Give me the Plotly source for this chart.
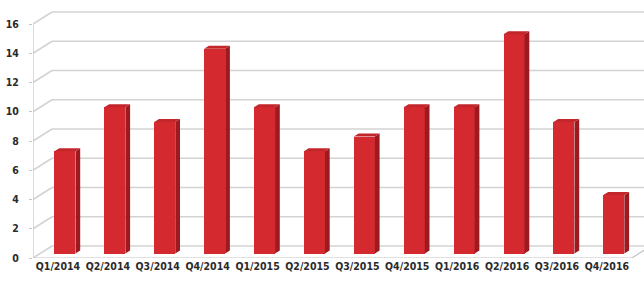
import plotly.graph_objects as go

categories = ["Q1/2014", "Q2/2014", "Q3/2014", "Q4/2014", "Q1/2015", "Q2/2015",
              "Q3/2015", "Q4/2015", "Q1/2016", "Q2/2016", "Q3/2016", "Q4/2016"]
values = [7, 10, 9, 14, 10, 7, 8, 10, 10, 15, 9, 4]
y_ticks = [0, 2, 4, 6, 8, 10, 12, 14, 16]

W, H = 644, 284
ML, MB = 33, 26
PX_X = 49.9            # pixels per category
PX_Y = 14.625          # pixels per value unit
x0 = -0.5
x1 = x0 + (W - ML) / PX_X
y1 = (H - MB) / PX_Y

# perspective offsets (data units)
WALL_DX, WALL_DY = 19 / PX_X, 12 / PX_Y     # back wall depth
BAR_DX, BAR_DY = 7 / PX_X, 4.4 / PX_Y       # bar front plane
SIDE_DX, SIDE_DY = 4.75 / PX_X, 3 / PX_Y    # bar depth
BAR_W = 21 / PX_X

FRONT = "#d42a2f"
SIDE = "#9c1a20"
TOP = "#c2252a"
GRID = "#d3d3d3"
EDGE = "#c4c4c4"
FONT = "DejaVu Sans Condensed, DejaVu Sans"

fig = go.Figure()

xs = [i + BAR_DX for i in range(len(values))]
fig.add_trace(go.Bar(x=xs, y=values, base=BAR_DY, width=BAR_W,
                     marker=dict(color=FRONT, line=dict(width=0)),
                     hoverinfo="skip", showlegend=False))

for xc, v in zip(xs, values):
    l, r = xc - BAR_W / 2, xc + BAR_W / 2
    b, t = BAR_DY, BAR_DY + v
    # side face
    fig.add_trace(go.Scatter(x=[r, r + SIDE_DX, r + SIDE_DX, r, r],
                             y=[b, b + SIDE_DY, t + SIDE_DY, t, b],
                             fill="toself", fillcolor=SIDE, mode="lines",
                             line=dict(width=0, color=SIDE),
                             hoverinfo="skip", showlegend=False))
    # top face
    fig.add_trace(go.Scatter(x=[l, r, r + SIDE_DX, l + SIDE_DX, l],
                             y=[t, t, t + SIDE_DY, t + SIDE_DY, t],
                             fill="toself", fillcolor=TOP, mode="lines",
                             line=dict(width=0, color=TOP),
                             hoverinfo="skip", showlegend=False))

shapes = []
for v in y_ticks:
    # left wall diagonal
    shapes.append(dict(type="line", xref="x", yref="y", x0=x0, y0=v,
                       x1=x0 + WALL_DX, y1=v + WALL_DY,
                       line=dict(color=GRID, width=1.6), layer="below"))
    # back wall gridline
    shapes.append(dict(type="line", xref="x", yref="y", x0=x0 + WALL_DX, y0=v + WALL_DY,
                       x1=x1, y1=v + WALL_DY,
                       line=dict(color=GRID, width=1.6), layer="below"))
# front left edge
shapes.append(dict(type="line", xref="x", yref="y", x0=x0, y0=0, x1=x0, y1=16,
                   line=dict(color=EDGE, width=1.2), layer="below"))
# floor front edge
floor_end = len(values) - 0.5
shapes.append(dict(type="line", xref="x", yref="y", x0=x0, y0=0, x1=floor_end, y1=0,
                   line=dict(color=EDGE, width=1.2), layer="below"))
shapes.append(dict(type="line", xref="x", yref="y", x0=floor_end, y0=0,
                   x1=floor_end + WALL_DX, y1=WALL_DY,
                   line=dict(color=EDGE, width=1.2), layer="below"))
# floor tick marks at category boundaries
for k in range(len(values) + 1):
    xb = x0 + k
    shapes.append(dict(type="line", xref="x", yref="y", x0=xb, y0=0, x1=xb, y1=-3 / PX_Y,
                       line=dict(color=EDGE, width=1), layer="below"))

fig.update_layout(
    width=W, height=H,
    margin=dict(l=ML, r=0, t=0, b=MB, autoexpand=False),
    paper_bgcolor="white", plot_bgcolor="white",
    shapes=shapes,
    font=dict(family=FONT, color="#333333"),
    xaxis=dict(range=[x0, x1], tickmode="array", tickvals=list(range(len(categories))),
               ticktext=categories, showgrid=False, zeroline=False, showline=False,
               ticks="", automargin=False,
               tickfont=dict(size=10.5, family=FONT, color="#2a2a2a", weight="bold"),
               fixedrange=True),
    yaxis=dict(range=[0, y1], tickmode="array", tickvals=y_ticks,
               ticktext=[str(v) for v in y_ticks], showgrid=False, zeroline=False,
               showline=False, ticks="outside", ticklen=3, tickcolor=EDGE,
               automargin=False,
               tickfont=dict(size=10.5, family=FONT, color="#2a2a2a", weight="bold"),
               ticklabelstandoff=8, fixedrange=True),
    bargap=0,
)

fig.write_html("out.html", config={"displayModeBar": False},
               post_script="document.body.style.margin='0px';document.body.style.overflow='hidden';")
